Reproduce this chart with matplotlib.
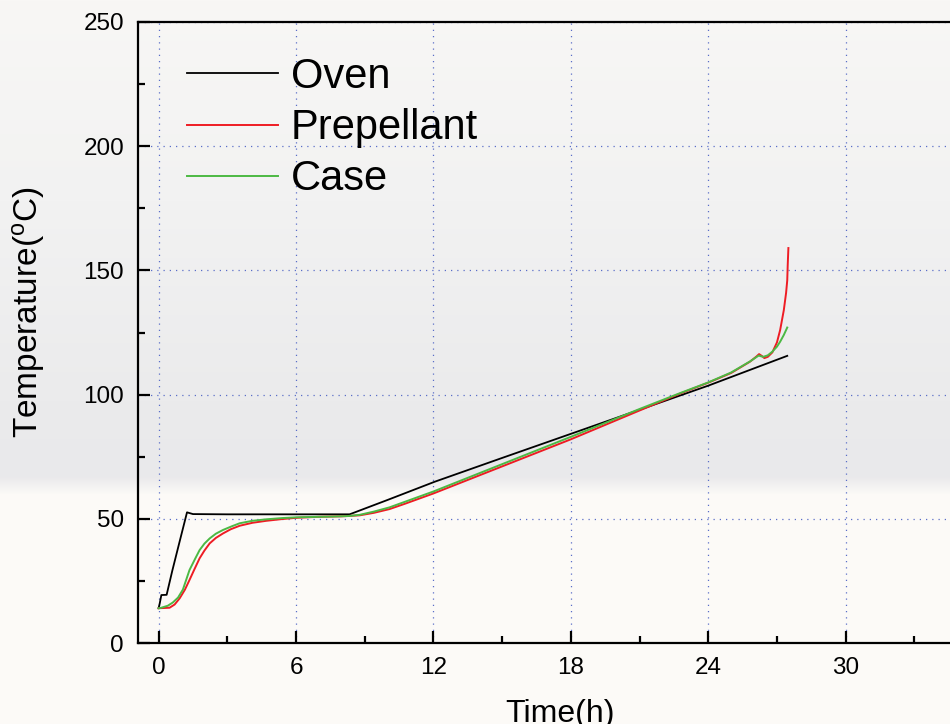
import numpy as np
import matplotlib
matplotlib.use("Agg")
import matplotlib.pyplot as plt
from matplotlib.ticker import MultipleLocator

plt.rcParams['font.family'] = ['Liberation Sans', 'DejaVu Sans']
plt.rcParams['mathtext.default'] = 'regular'

# Oven temperature (h, degC)
oven_t = [0, 0.05, 0.12, 0.35, 0.6, 0.9, 1.24, 1.5, 3, 5, 7, 8.34,
          10, 12.05, 15, 18, 21, 24, 26.27, 27.45]
oven_T = [14, 16, 19.3, 19.4, 29.2, 40.2, 52.6, 51.9, 51.8, 51.8, 51.8, 51.8,
          57.6, 64.9, 74.5, 84.2, 93.9, 103.6, 111.5, 115.6]

# Prepellant temperature
prep_t = [0, 0.25, 0.48, 0.7, 0.92, 1.15, 1.35, 1.57, 1.79, 2.0, 2.23, 2.5,
          2.81, 3.15, 3.54, 4.1, 4.71, 5.4, 6.02, 7, 8, 8.78, 9.4, 10.08, 10.8,
          12, 15, 18, 21, 22.77, 24, 25, 25.83, 26.1, 26.22, 26.35, 26.45,
          26.6, 26.8, 27.0, 27.14, 27.3, 27.4, 27.45, 27.47, 27.5]
prep_T = [14, 14.1, 14.2, 15.5, 18, 21.5, 25.4, 29.8, 34.1, 37.2, 40.1, 42.3,
          44.1, 45.8, 47.2, 48.4, 49.2, 49.9, 50.4, 50.8, 51, 51.4, 52.4, 53.9, 56.2,
          60.2, 71.1, 82, 93.6, 100.4, 104.8, 108.7, 113.3, 115.3, 116.3, 115.5, 114.7,
          115.2, 117, 121, 126, 134, 141, 146, 152, 159]

# Case temperature
case_t = [0, 0.12, 0.4, 0.62, 0.85, 1.06, 1.35, 1.6, 1.79, 2.0, 2.23, 2.5,
          2.81, 3.2, 3.54, 4.1, 4.71, 5.4, 6.02, 7, 7.6, 8.27, 8.78, 9.4, 10.08,
          10.8, 12, 15, 18, 21, 22.77, 24, 25, 25.83, 26.2, 26.4, 26.6,
          26.8, 27.0, 27.14, 27.3, 27.45]
case_T = [14, 14.2, 15, 16.3, 18.3, 21.5, 29.4, 34, 37.4, 40, 42.1, 44,
          45.5, 47, 48.2, 49.2, 49.8, 50.3, 50.6, 50.8, 50.9, 51.1, 51.6, 52.9, 54.6,
          57, 61, 72, 83, 94.2, 100.6, 104.9, 108.9, 113.4, 115.7, 115.2, 115.8,
          117.3, 119.3, 121.3, 124, 127]

fig = plt.figure(figsize=(9.5, 7.24), dpi=100)

# background gradient
rows = np.array([0, 200, 400, 476, 494, 724])
cols = np.array([[248, 247, 245], [242, 242, 242], [235, 235, 236],
                 [233, 233, 235], [252, 250, 247], [253, 251, 248]]) / 255.0
yy = np.arange(724)
grad = np.stack([np.interp(yy, rows, cols[:, i]) for i in range(3)], axis=1)
bg = fig.add_axes([0, 0, 1, 1], zorder=-10)
bg.imshow(grad[:, None, :], aspect='auto', extent=[0, 1, 0, 1])
bg.axis('off')

W, H = 950.0, 724.0
ax = fig.add_axes([138 / W, (H - 643) / H, 833.6 / W, (643 - 22) / H])
ax.patch.set_alpha(0)

ax.plot(oven_t, oven_T, color='black', lw=1.3, label='Oven')
ax.plot(prep_t, prep_T, color='#ee1c24', lw=1.4, label='Prepellant')
ax.plot(case_t, case_T, color='#4cb944', lw=1.4, label='Case')

ax.set_xlim(-0.9, 35.5)
ax.set_ylim(0, 250)
ax.xaxis.set_major_locator(MultipleLocator(6))
ax.xaxis.set_minor_locator(MultipleLocator(3))
ax.yaxis.set_major_locator(MultipleLocator(50))
ax.yaxis.set_minor_locator(MultipleLocator(25))

ax.grid(True, which='major', color='#5a6ec8', lw=0.9, ls=(0, (1, 4)))
ax.set_axisbelow(True)

for s in ['left', 'bottom', 'top', 'right']:
    ax.spines[s].set_linewidth(1.6)
ax.tick_params(which='major', direction='in', length=8.5, width=1.6,
               labelsize=17.5, pad=10, top=False, right=False)
ax.tick_params(which='minor', direction='in', length=5, width=1.6,
               top=False, right=False)

ax.set_xlabel('Time(h)', fontsize=23)
ax.set_ylabel('Temperature($^o$C)', fontsize=24)
ax.xaxis.set_label_coords((560 - 138) / 833.6, -(699 - 643) / 621.0)
ax.yaxis.set_label_coords(-(138 - 47) / 833.6, (643 - 312) / 621.0)

leg = ax.legend(loc='upper left', bbox_to_anchor=(0.0385, 0.9705), frameon=False,
                fontsize=30, handlelength=2.2, handletextpad=0.3, labelspacing=0.27,
                borderaxespad=0)

fig.savefig('out.png', dpi=100)
